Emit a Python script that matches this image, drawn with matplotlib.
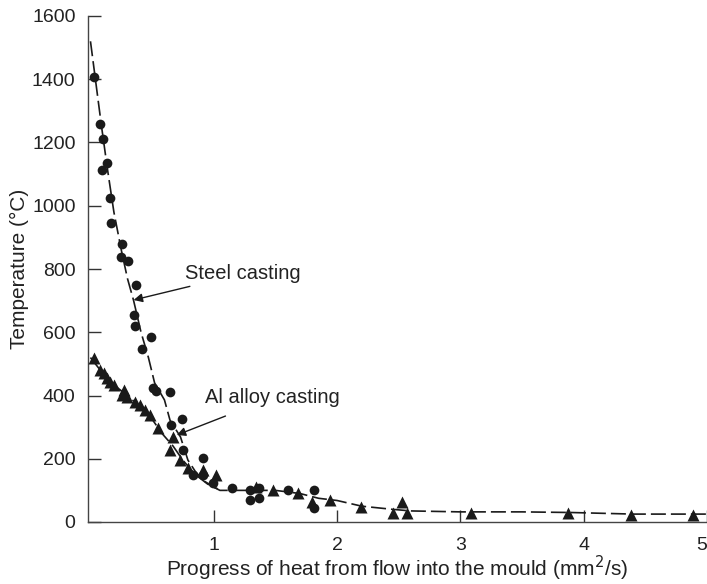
import matplotlib.pyplot as plt

plt.rcParams['font.family'] = ['Liberation Sans', 'DejaVu Sans']

# steel casting, measured points
steel_x = [0.03, 0.075, 0.10, 0.135, 0.095, 0.16, 0.167, 0.256, 0.248, 0.304, 0.37, 0.355,
           0.363, 0.49, 0.42, 0.51, 0.53, 0.645, 0.65, 0.74, 0.75, 0.83, 0.91, 0.91, 0.99,
           1.15, 1.29, 1.29, 1.37, 1.37, 1.60, 1.81, 1.81]
steel_y = [1407, 1260, 1212, 1134, 1113, 1026, 944, 878, 839, 826, 749, 654,
           621, 584, 546, 423, 415, 412, 307, 326, 228, 149, 201, 149, 122,
           107, 101, 70, 107, 76, 101, 101, 44]

# Al alloy casting, measured points
al_x = [0.03, 0.08, 0.11, 0.135, 0.16, 0.19, 0.27, 0.255, 0.30, 0.36, 0.40, 0.44, 0.48,
        0.55, 0.67, 0.645, 0.725, 0.79, 0.91, 1.02, 1.34, 1.48, 1.68, 1.80, 1.94, 2.19,
        2.45, 2.53, 2.57, 3.09, 3.87, 4.38, 4.89]
al_y = [517, 480, 470, 454, 444, 433, 417, 401, 396, 380, 370, 354, 338,
        296, 268, 228, 196, 170, 164, 149, 112, 101, 91, 64, 70, 49,
        28, 64, 28, 28, 29, 22, 22]

# hand drawn curves through the points
steel_line_x = [0, 0.04, 0.09, 0.14, 0.19, 0.25, 0.30, 0.35, 0.41, 0.47, 0.52, 0.60, 0.645,
                0.73, 0.79, 0.85, 0.92, 1.0, 1.05]
steel_line_y = [1520, 1400, 1250, 1110, 980, 860, 770, 700, 600, 520, 440, 386, 322,
                269, 196, 160, 130, 110, 102]
al_line_x = [0, 0.1, 0.2, 0.3, 0.4, 0.5, 0.58, 0.67, 0.75, 0.85, 0.95, 1.05, 1.2, 1.5, 1.7,
             1.85, 2.0, 2.2, 2.45, 2.6, 3.0, 3.5, 3.9, 4.4, 5.0]
al_line_y = [520, 470, 430, 400, 365, 325, 280, 240, 195, 150, 120, 100, 100, 100, 90,
             75, 68, 50, 40, 35, 32, 32, 30, 25, 25]

x_ticks = [1, 2, 3, 4, 5]
y_ticks = [0, 200, 400, 600, 800, 1000, 1200, 1400, 1600]

fig = plt.figure(figsize=(7.07, 5.84), dpi=100)
ax = fig.add_axes([88 / 707, 62 / 584, 619 / 707, 506 / 584])

ink = '#1a1a1a'
txt = '#222222'
ax.plot(steel_line_x, steel_line_y, color=ink, lw=1.2, dashes=(9, 3), zorder=2)
ax.plot(al_line_x, al_line_y, color=ink, lw=1.2, dashes=(9, 3), zorder=2)
ax.plot(steel_x, steel_y, 'o', color=ink, ms=7, mec='none', zorder=3)
ax.plot(al_x, al_y, '^', color=ink, ms=8.5, mec='none', zorder=3)

ax.annotate('Steel casting', xy=(0.35, 702), xytext=(0.77, 786),
            fontsize=14.5, color=txt, va='center', ha='left',
            arrowprops=dict(arrowstyle='-|>', color=ink, lw=1.0, shrinkA=2, shrinkB=0,
                            mutation_scale=13))
ax.annotate('Al alloy casting', xy=(0.70, 275), xytext=(0.93, 393),
            fontsize=14.5, color=txt, va='center', ha='left',
            arrowprops=dict(arrowstyle='-|>', color=ink, lw=1.0, shrinkA=12, shrinkB=0,
                            mutation_scale=13))

ax.set_xlim(-0.02, 5.0)
ax.set_ylim(0, 1600)
ax.set_xticks(x_ticks, labels=[str(t) for t in x_ticks])
ax.set_yticks(y_ticks)
ax.tick_params(direction='in', length=9, width=1.0, colors='#333333', labelsize=14,
               labelcolor=txt)
ax.tick_params(axis='x', pad=11)
ax.tick_params(axis='y', pad=9)
# last x label sits right at the figure edge
ax.xaxis.get_major_ticks()[-1].label1.set_horizontalalignment('right')

for side in ['top', 'right']:
    ax.spines[side].set_visible(False)
for side in ['left', 'bottom']:
    ax.spines[side].set_color('#444444')
    ax.spines[side].set_linewidth(1.0)

ax.set_xlabel('Progress of heat from flow into the mould (mm$^2$/s)', fontsize=15,
              color=txt, labelpad=0)
ax.set_ylabel('Temperature (°C)', fontsize=15, color=txt, labelpad=2)

fig.savefig('out.png', dpi=100)
